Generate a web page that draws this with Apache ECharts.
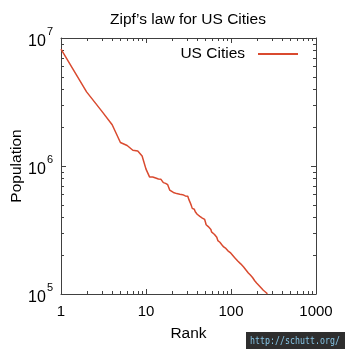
<!DOCTYPE html>
<html><head><meta charset="utf-8">
<script src="https://cdn.jsdelivr.net/npm/echarts@6/dist/echarts.min.js"></script>
<style>html,body{margin:0;padding:0;background:#fff}#c{width:345px;height:349px}</style>
</head><body><div id="c"></div>
<script>
var titleText = 'Zipf\u2019s law for US Cities';
var seriesName = 'US Cities';
var xName = 'Rank';
var yName = 'Population';
var ranks = [1,2,3,4,5,6,7,8,9,10,11,12,13,14,15,16,17,18,19,20,21,22,23,24,25,26,27,28,29,30,31,32,33,34,35,36,37,38,39,40,41,42,43,44,45,46,47,48,49,50,51,52,53,54,55,56,57,58,59,60,61,62,63,64,65,66,67,68,69,70,71,72,73,74,75,76,77,78,79,80,81,82,83,84,85,86,87,88,89,90,91,92,93,94,95,96,97,98,99,100,110,120,130,140,150,160,170,180,190,200,210,220,230,240,250,260,268];
var population = [8175133,3792621,2695598,2099451,1526006,1445632,1327407,1307402,1197816,945942,821784,820445,805235,790390,787033,741206,731424,713777,649121,646889,620961,617594,608660,601723,601222,600158,597337,594833,583776,583756,579999,545852,520116,494665,466488,462257,459787,439041,437994,420003,416427,408958,403892,399457,396815,391906,390724,382578,382368,365438,347483,343829,337256,336265,335709,325078,324528,319294,305704,305215,303871,296943,295803,291826,291707,287208,285068,277140,269666,261310,259841,258379,257729,253691,247597,244769,243916,242803,238300,236123,236091,233209,229617,229573,229493,228330,226876,226721,225221,224669,222209,217385,216961,216290,214089,212375,212237,210565,209924,208916,193000,181000,172000,163000,154000,146000,140000,134000,127000,122000,118000,114000,110000,107000,104500,102300,100200];
var xTickLabels = ['1','10','100','1000'];
var yExponents = ['5','6','7'];

(function(){
var data = ranks.map(function(r,i){return [r,population[i]];});
var chart = echarts.init(document.getElementById('c'), null, {renderer:'canvas'});
var FONT = 'Liberation Sans, Arial, sans-serif';
var AX = '#404040';
var option = {
  animation:false,
  title:{text:titleText,left:105,top:7,textStyle:{fontFamily:FONT,fontSize:15.5,fontWeight:'normal',color:'#000'}},
  legend:{data:[seriesName],right:42,top:41,align:'right',itemWidth:40,itemHeight:2,icon:'rect',
    textStyle:{fontFamily:FONT,fontSize:15.5,color:'#000',padding:[0,8,0,0]}},
  grid:{left:61,right:29,top:38,bottom:55,containLabel:false,outerBoundsMode:'none'},
  xAxis:[{type:'log',logBase:10,min:1,max:1000,name:xName,nameLocation:'middle',nameGap:32,nameMoveOverlap:false,
    nameTextStyle:{fontFamily:FONT,fontSize:15.5,color:'#000'},
    axisLine:{lineStyle:{color:AX,width:1}},axisTick:{inside:true,length:5,lineStyle:{color:AX}},
    axisLabel:{fontFamily:FONT,fontSize:15,color:'#000',margin:10,
      formatter:function(v){return xTickLabels[Math.round(Math.log10(v))];}},splitLine:{show:false}},
    {type:'log',logBase:10,min:1,max:1000,position:'top',
    axisLine:{lineStyle:{color:AX,width:1}},axisTick:{inside:true,length:5,lineStyle:{color:AX}},
    axisLabel:{show:false},splitLine:{show:false}}],
  yAxis:[{type:'log',logBase:10,min:1e5,max:1e7,name:yName,nameLocation:'middle',nameGap:36,nameMoveOverlap:false,
    nameTextStyle:{fontFamily:FONT,fontSize:15.5,color:'#000'},
    axisLine:{lineStyle:{color:AX,width:1}},axisTick:{inside:true,length:5,lineStyle:{color:AX}},
    axisLabel:{margin:8,formatter:function(v){var e=Math.round(Math.log10(v))-5;return '{b|10}{s|'+yExponents[e]+'}';},
      rich:{b:{fontFamily:FONT,fontSize:16,color:'#000',padding:[7,0,0,0]},s:{fontFamily:FONT,fontSize:11,color:'#000',verticalAlign:'top',padding:[0,0,0,1]}}},
    splitLine:{show:false}},
    {type:'log',logBase:10,min:1e5,max:1e7,position:'right',
    axisLine:{lineStyle:{color:AX,width:1}},axisTick:{inside:true,length:5,lineStyle:{color:AX}},
    axisLabel:{show:false},splitLine:{show:false}}],
  series:[{name:seriesName,type:'line',data:data,showSymbol:false,symbol:'none',
    lineStyle:{color:'#d94a2f',width:1.5},itemStyle:{color:'#d94a2f'},clip:true}]
};
chart.setOption(option);

var g = [];
function mk(x1,y1,x2,y2){g.push({type:'line',shape:{x1:x1,y1:y1,x2:x2,y2:y2},style:{stroke:AX,lineWidth:1},silent:true});}
var pTop = chart.convertToPixel({yAxisIndex:0},1e7), pBot = chart.convertToPixel({yAxisIndex:0},1e5);
var pL = chart.convertToPixel({xAxisIndex:0},1), pR = chart.convertToPixel({xAxisIndex:0},1000);
[1,10,100].forEach(function(d){for(var k=2;k<=9;k++){var px=Math.round(chart.convertToPixel({xAxisIndex:0},d*k))+0.5;mk(px,pBot,px,pBot-3);mk(px,pTop,px,pTop+3);}});
[1e5,1e6].forEach(function(d){for(var k=2;k<=9;k++){var py=Math.round(chart.convertToPixel({yAxisIndex:0},d*k))+0.5;mk(pL,py,pL+3,py);mk(pR,py,pR-3,py);}});
g.push({type:'rect',shape:{x:246,y:332,width:99,height:17},style:{fill:'#2e2e2e'},silent:true});
g.push({type:'group',x:250,y:341,scaleX:0.755,silent:true,children:[
  {type:'text',x:0,y:0,style:{text:'http://schutt.org/',font:'11px "DejaVu Sans Mono", monospace',fill:'#86c5e6',verticalAlign:'middle',align:'left'},silent:true}]});
chart.setOption({graphic:g});
})();
</script></body></html>
